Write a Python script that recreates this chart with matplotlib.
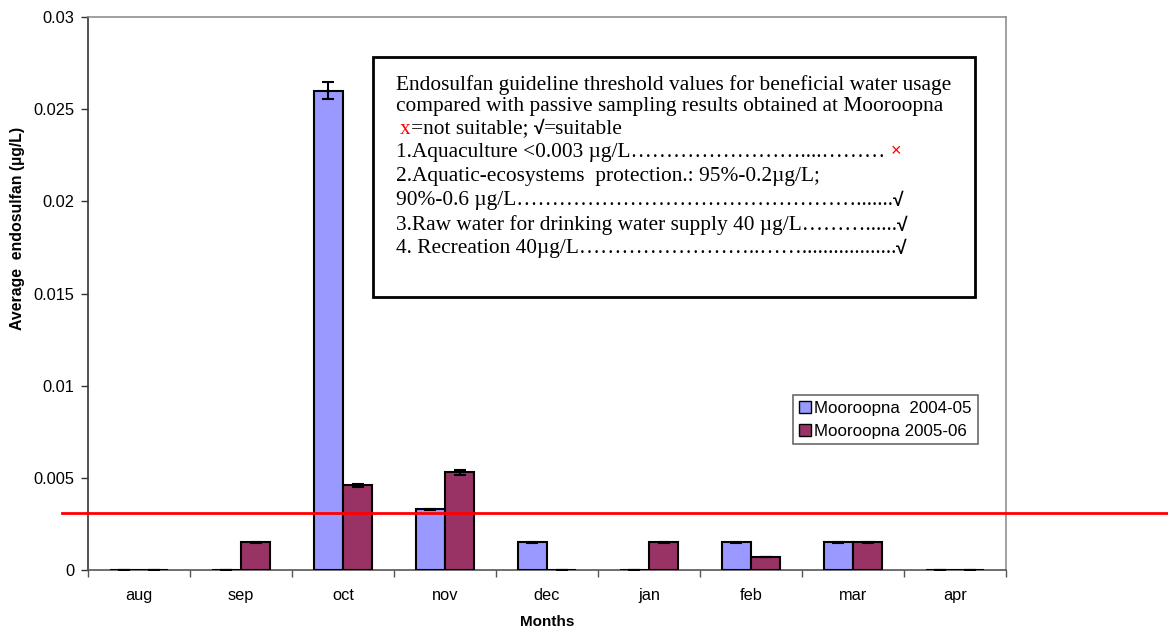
"""Endosulfan moyen mesuré par échantillonnage passif à Mooroopna, 2004-05 et 2005-06."""

import matplotlib

matplotlib.use("Agg")
import matplotlib.pyplot as plt
import numpy as np
from matplotlib.patches import Patch, Rectangle
from matplotlib.text import Annotation

months = ["aug", "sep", "oct", "nov", "dec", "jan", "feb", "mar", "apr"]
series_names = ["Mooroopna  2004-05", "Mooroopna 2005-06"]
vals_0405 = [0.0, 0.0, 0.0260, 0.0033, 0.0015, 0.0, 0.0015, 0.0015, 0.0]
vals_0506 = [0.0, 0.0015, 0.0046, 0.0053, 0.0, 0.0015, 0.0007, 0.0015, 0.0]
err_0405 = [0.0, 0.0, 0.00046, 0.00003, 0.00002, 0.0, 0.00002, 0.00002, 0.0]
err_0506 = [0.0, 0.00002, 0.00008, 0.00015, 0.0, 0.00002, 0.00002, 0.00002, 0.0]
threshold = 0.0031
yticks = [0, 0.005, 0.01, 0.015, 0.02, 0.025, 0.03]
ytick_labels = ["0", "0.005", "0.01", "0.015", "0.02", "0.025", "0.03"]

box_title = [
    "Endosulfan guideline threshold values for beneficial water usage",
    "compared with passive sampling results obtained at Mooroopna",
]
box_items = [
    ("1.Aquaculture <0.003 µg/L……………………....………", "×"),
    ("2.Aquatic-ecosystems  protection.: 95%-0.2µg/L;", None),
    ("90%-0.6 µg/L………………………………………….......", "√"),
    ("3.Raw water for drinking water supply 40 µg/L………......", "√"),
    ("4. Recreation 40µg/L……………………..……..................", "√"),
]

W, H = 1168, 632
BLUE = "#9999ff"
PLUM = "#993366"
SERIF = ["Liberation Serif", "DejaVu Serif"]
SANS = ["Liberation Sans", "DejaVu Sans"]


def px(x, y):
    """pixels (origine en haut à gauche) -> fraction de figure"""
    return x / W, 1 - y / H


def chain(fig, prev, s, **kw):
    """texte collé à droite du précédent, ajouté au-dessus de l'encadré"""
    a = Annotation(s, xy=(1, 0), xycoords=prev, va="bottom", zorder=6, **kw)
    fig.add_artist(a)
    return a


plt.rcParams["font.family"] = SANS
fig = plt.figure(figsize=(W / 100, H / 100), dpi=100)
ax = fig.add_axes([88 / W, 1 - 570 / H, (1006 - 88) / W, (570 - 17) / H])

x = np.arange(len(months))
bw = 0.2875
err_kw = dict(ecolor="black", elinewidth=1.5, capsize=4.5, capthick=1.5)
ax.bar(x - bw / 2, vals_0405, bw, yerr=err_0405, color=BLUE, edgecolor="black",
       linewidth=1.5, error_kw=err_kw, label=series_names[0], zorder=3)
ax.bar(x + bw / 2, vals_0506, bw, yerr=err_0506, color=PLUM, edgecolor="black",
       linewidth=1.5, error_kw=err_kw, label=series_names[1], zorder=3)

# seuil aquaculture, tracé au-delà du cadre
ax.axhline(threshold, xmin=(62 - 88) / 918, xmax=(1168 - 88) / 918,
           color="red", linewidth=2, clip_on=False, zorder=5)

ax.set_xlim(-0.5, len(months) - 0.5)
ax.set_ylim(0, 0.03)
ax.set_yticks(yticks)
ax.set_yticklabels(ytick_labels)
ax.set_xticks(x)
ax.set_xticklabels(months)
ax.set_xticks(np.arange(-0.5, len(months)), minor=True)
ax.tick_params(axis="x", which="major", length=0, pad=13, labelsize=11.8)
ax.tick_params(axis="x", which="minor", length=5, width=1, color="#555555")
ax.tick_params(axis="y", length=5, width=1, color="#333333", pad=5, labelsize=11.8)

ax.spines["left"].set_color("#333333")
ax.spines["bottom"].set_color("#555555")
for side in ("top", "right"):
    ax.spines[side].set_color("#909090")
for sp in ax.spines.values():
    sp.set_linewidth(1.2)

fig.text(*px(18, 228), "Average  endosulfan (µg/L)", rotation=90, ha="center",
         va="center", fontsize=11.4, fontweight="bold")
fig.text(*px(547, 622), "Months", ha="center", va="center", fontsize=11,
         fontweight="bold")

handles = [Patch(facecolor=BLUE, edgecolor="black", linewidth=1),
           Patch(facecolor=PLUM, edgecolor="black", linewidth=1)]
leg = ax.legend(handles, series_names, loc="upper left",
                bbox_to_anchor=px(793, 395), bbox_transform=fig.transFigure,
                fontsize=12.2, frameon=True, fancybox=False, handlelength=0.7,
                handleheight=0.7, handletextpad=0.2, borderpad=0.35,
                labelspacing=0.45, borderaxespad=0)
leg.get_frame().set_edgecolor("#444444")
leg.get_frame().set_linewidth(1.2)

# encadré des valeurs guides
fig.add_artist(Rectangle(px(373, 297), (975 - 373) / W, (297 - 57) / H,
                         transform=fig.transFigure, facecolor="white",
                         edgecolor="black", linewidth=2, zorder=4))

fs = 15.4
line_y = [85, 107, 129, 153, 177, 201, 225, 249]
for i, line in enumerate(box_title):
    fig.text(*px(396, line_y[i]), line, family=SERIF, fontsize=fs, va="center",
             zorder=6)

t = fig.text(*px(400, line_y[2]), "x", family=SERIF, fontsize=fs, color="red",
             va="center", zorder=6)
t = chain(fig, t, "=not suitable; ", family=SERIF, fontsize=fs)
t = chain(fig, t, "√", family=SANS, fontsize=fs - 1.5, fontweight="bold")
t = chain(fig, t, "=suitable", family=SERIF, fontsize=fs)

for (line, mark), y in zip(box_items, line_y[3:]):
    t = fig.text(*px(396, y), line, family=SERIF, fontsize=fs, va="center",
                 zorder=6)
    if mark == "×":
        a = Annotation(mark, xy=(1, 0.6), xycoords=t, va="center", fontsize=13,
                       color="red", family=SANS, zorder=6,
                       xytext=(4, 0), textcoords="offset points")
        fig.add_artist(a)
    elif mark:
        chain(fig, t, mark, family=SANS, fontsize=fs - 1.5, fontweight="bold")

fig.savefig("out.png", dpi=100)
